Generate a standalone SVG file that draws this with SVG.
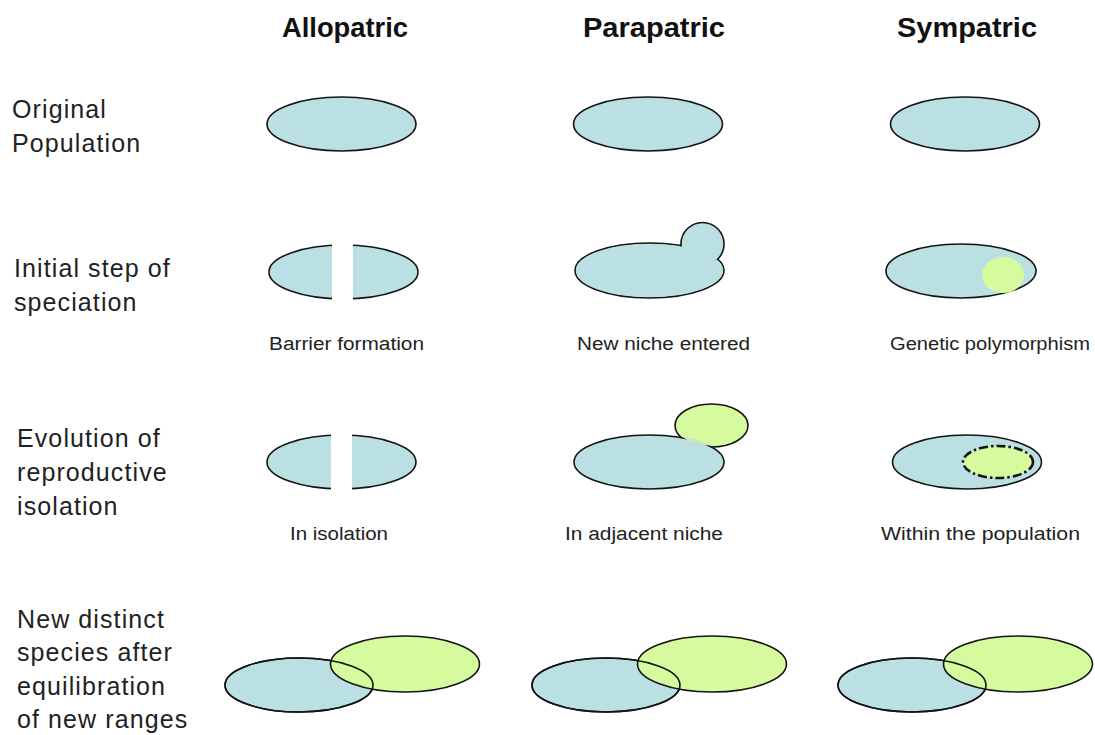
<svg xmlns="http://www.w3.org/2000/svg" width="1095" height="735" viewBox="0 0 1095 735">
<style>
.bg{fill:#ffffff}
.pop{fill:#bbe0e3;stroke:#141414;stroke-width:1.6}
.new{fill:#d6fb9f;stroke:#141414;stroke-width:1.6}
.fillpop{fill:#bbe0e3;stroke:none}
.fillnew{fill:#d6fb9f;stroke:none}
.line{fill:none;stroke:#141414;stroke-width:1.6}
.head{font-family:"Liberation Sans",Arial,sans-serif;font-size:27px;font-weight:bold;fill:#111}
.row{font-family:"Liberation Sans",Arial,sans-serif;font-size:25px;fill:#222;letter-spacing:1.1px}
.cap{font-family:"Liberation Sans",Arial,sans-serif;font-size:18px;fill:#222}
.gap{fill:#ffffff}
</style>
<defs>
<clipPath id="clipGreenPara"><ellipse cx="711.5" cy="425.5" rx="35" ry="20"/></clipPath>
</defs>
<rect class="bg" x="0" y="0" width="1095" height="735"/>

<g id="headings">
<text class="head" x="282" y="37" textLength="126" lengthAdjust="spacingAndGlyphs">Allopatric</text>
<text class="head" x="583" y="37" textLength="142" lengthAdjust="spacingAndGlyphs">Parapatric</text>
<text class="head" x="897" y="37" textLength="140" lengthAdjust="spacingAndGlyphs">Sympatric</text>
</g>

<g id="row-labels">
<text class="row" x="12" y="118">Original</text>
<text class="row" x="12" y="152">Population</text>
<text class="row" x="14" y="277">Initial step of</text>
<text class="row" x="14" y="311">speciation</text>
<text class="row" x="17" y="447">Evolution of</text>
<text class="row" x="17" y="481">reproductive</text>
<text class="row" x="17" y="515">isolation</text>
<text class="row" x="17" y="628">New distinct</text>
<text class="row" x="17" y="661">species after</text>
<text class="row" x="17" y="695">equilibration</text>
<text class="row" x="17" y="728">of new ranges</text>
</g>

<g id="connectors"></g>

<!-- Row 1: original population -->
<g id="allo-original"><ellipse class="pop" cx="341.5" cy="124" rx="74.5" ry="27"/></g>
<g id="para-original"><ellipse class="pop" cx="648" cy="124" rx="74.5" ry="27"/></g>
<g id="symp-original"><ellipse class="pop" cx="965" cy="124" rx="74.5" ry="27"/></g>

<!-- Row 2: initial step -->
<g id="allo-initial">
<ellipse class="pop" cx="343.5" cy="272" rx="74.5" ry="27"/>
<rect class="gap" x="332" y="240" width="21" height="64"/>
<text class="cap" x="269" y="350" textLength="155" lengthAdjust="spacingAndGlyphs">Barrier formation</text>
</g>
<g id="para-initial">
<ellipse class="pop" cx="649.5" cy="270.5" rx="74.5" ry="27.5"/>
<circle class="pop" cx="702.5" cy="244" r="21.5"/>
<ellipse class="fillpop" cx="649.5" cy="270.5" rx="73.5" ry="26.5"/>
<text class="cap" x="577" y="350" textLength="173" lengthAdjust="spacingAndGlyphs">New niche entered</text>
</g>
<g id="symp-initial">
<ellipse class="pop" cx="961" cy="271" rx="75" ry="27"/>
<ellipse class="fillnew" cx="1003" cy="275" rx="21" ry="18"/>
<text class="cap" x="890" y="350" textLength="200" lengthAdjust="spacingAndGlyphs">Genetic polymorphism</text>
</g>

<!-- Row 3: evolution of reproductive isolation -->
<g id="allo-evolution">
<ellipse class="pop" cx="341.5" cy="462" rx="74.5" ry="27"/>
<rect class="gap" x="331" y="430" width="21" height="64"/>
<text class="cap" x="290" y="540" textLength="98" lengthAdjust="spacingAndGlyphs">In isolation</text>
</g>
<g id="para-evolution">
<ellipse class="new" cx="711.5" cy="425.5" rx="36.5" ry="21.5"/>
<ellipse class="pop" cx="649" cy="462" rx="75" ry="27"/>
<ellipse cx="649" cy="462" rx="75" ry="27" fill="none" stroke="#cde9c2" stroke-width="2.6" clip-path="url(#clipGreenPara)"/>
<text class="cap" x="565" y="540" textLength="158" lengthAdjust="spacingAndGlyphs">In adjacent niche</text>
</g>
<g id="symp-evolution">
<ellipse class="pop" cx="967" cy="462" rx="74.5" ry="27"/>
<ellipse cx="998" cy="462" rx="35" ry="16" fill="#d6fb9f" stroke="#141414" stroke-width="2.6" stroke-dasharray="9 3 2.5 3"/>
<text class="cap" x="881" y="540" textLength="199" lengthAdjust="spacingAndGlyphs">Within the population</text>
</g>

<!-- Row 4: new distinct species -->
<g id="allo-species">
<ellipse class="pop" cx="299" cy="685" rx="74" ry="27"/>
<ellipse class="new" cx="405" cy="664" rx="74.5" ry="28"/>
<ellipse class="line" cx="299" cy="685" rx="74" ry="27"/>
</g>
<g id="para-species">
<ellipse class="pop" cx="606" cy="685" rx="74" ry="27"/>
<ellipse class="new" cx="712" cy="664" rx="74.5" ry="28"/>
<ellipse class="line" cx="606" cy="685" rx="74" ry="27"/>
</g>
<g id="symp-species">
<ellipse class="pop" cx="912" cy="685" rx="74" ry="27"/>
<ellipse class="new" cx="1018" cy="664" rx="74.5" ry="28"/>
<ellipse class="line" cx="912" cy="685" rx="74" ry="27"/>
</g>
</svg>
